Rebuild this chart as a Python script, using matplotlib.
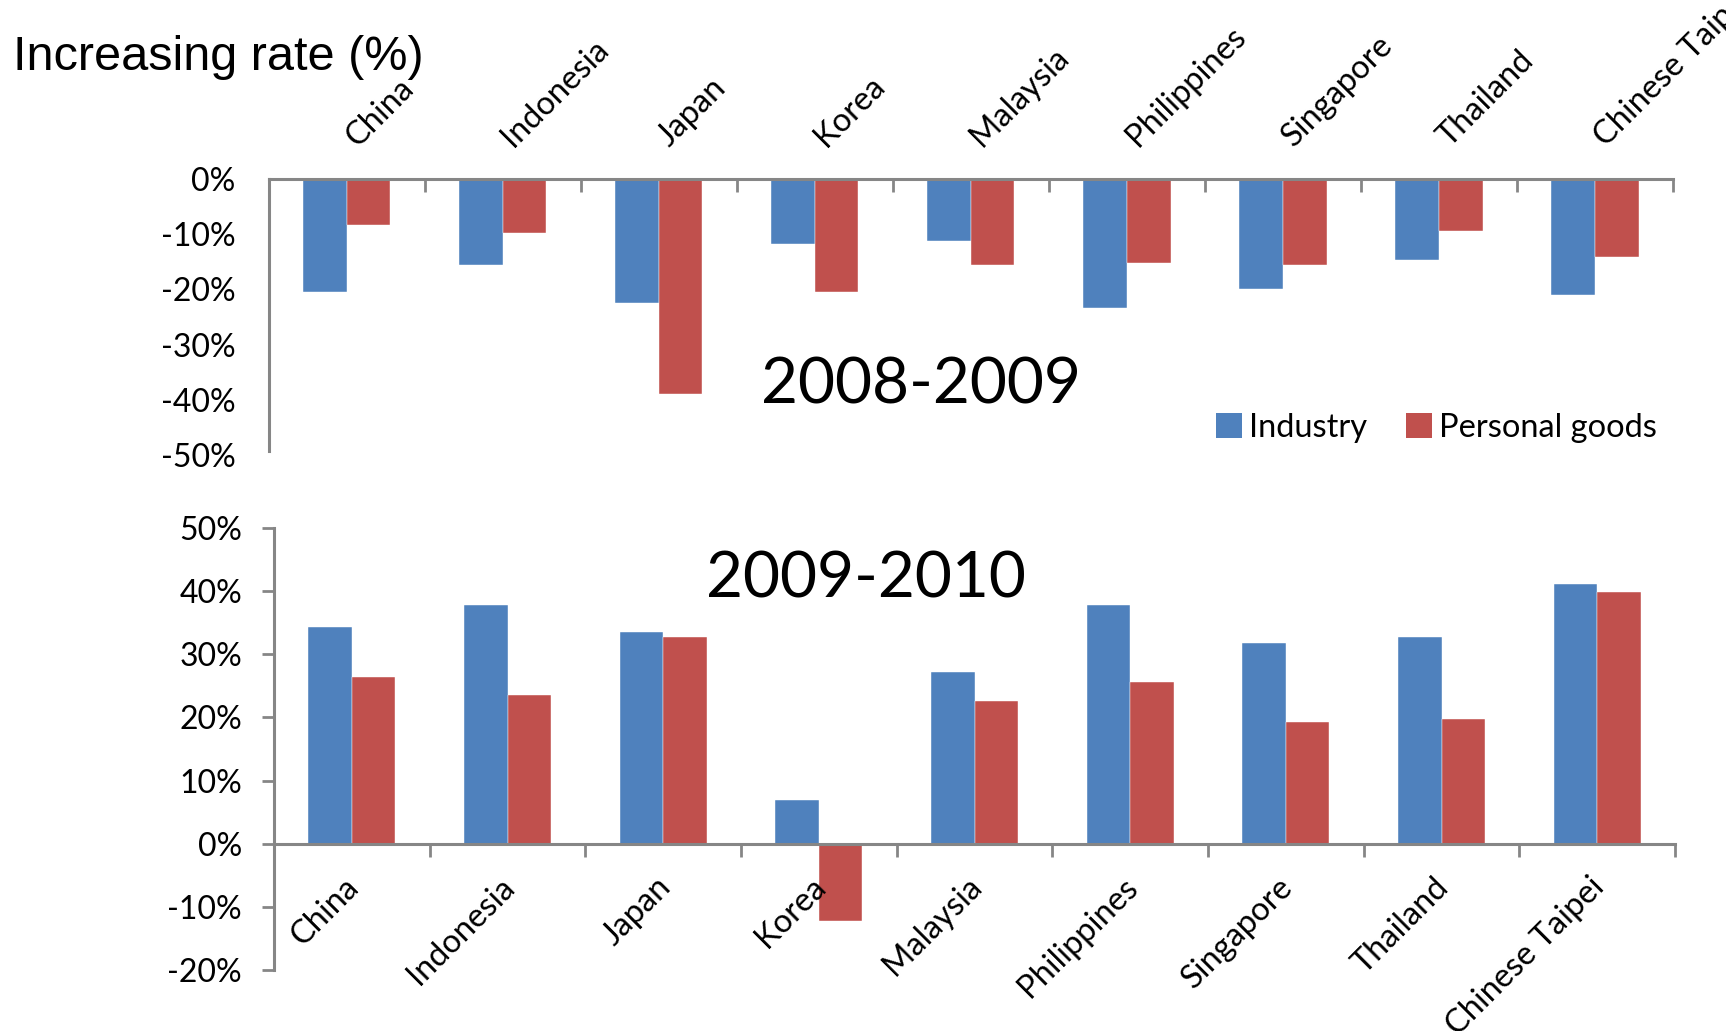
import numpy as np
import matplotlib
matplotlib.use("Agg")
import matplotlib.pyplot as plt
from matplotlib import transforms
from matplotlib.patches import Patch

countries = ["China", "Indonesia", "Japan", "Korea", "Malaysia",
             "Philippines", "Singapore", "Thailand", "Chinese Taipei"]

# growth 2008-2009 (%)
industry_0809 = [-20.4, -15.6, -22.4, -11.8, -11.2, -23.4, -19.9, -14.6, -21.0]
personal_0809 = [-8.3, -9.8, -38.9, -20.4, -15.6, -15.2, -15.6, -9.3, -14.1]

# growth 2009-2010 (%)
industry_0910 = [34.3, 37.8, 33.6, 7.0, 27.2, 37.8, 31.8, 32.7, 41.2]
personal_0910 = [26.4, 23.5, 32.8, -12.3, 22.6, 25.6, 19.3, 19.7, 39.9]

yticks_top = [0, -10, -20, -30, -40, -50]
yticks_bottom = [50, 40, 30, 20, 10, 0, -10, -20]
series_names = ["Industry", "Personal goods"]
period_labels = ["2008-2009", "2009-2010"]
axis_title = "Increasing rate (%)"

BLUE = "#4F81BD"
RED = "#C0504D"
GRAY = "#868686"
FONT = "Lato"
FS = 23.5

W, H = 1726, 1031
fig = plt.figure(figsize=(W / 100, H / 100), dpi=100)


def fig_rect(x0, y_top, x1, y_bot):
    return [x0 / W, 1 - y_bot / H, (x1 - x0) / W, (y_bot - y_top) / H]


x = np.arange(len(countries))
bw = 0.28

# ---- upper panel: 2008-2009 ----
ax1 = fig.add_axes(fig_rect(268.6, 179.4, 1673, 454.6))
ax1.bar(x - bw / 2, industry_0809, bw, color=BLUE, edgecolor="white", linewidth=0.3)
ax1.bar(x + bw / 2, personal_0809, bw, color=RED, edgecolor="white", linewidth=0.3)
ax1.set_xlim(-0.5, len(countries) - 0.5)
ax1.set_ylim(-50, 0)
ax1.set_yticks(yticks_top)
ax1.set_yticklabels([f"{v}%" for v in yticks_top], fontfamily=FONT, fontsize=23)
ax1.tick_params(axis="y", length=0, pad=24)
ax1.xaxis.tick_top()
ax1.set_xticks(np.arange(-0.5, len(countries), 1.0))
ax1.set_xticklabels([])
ax1.tick_params(axis="x", direction="in", length=9, width=2, color=GRAY)
for s in ["bottom", "right"]:
    ax1.spines[s].set_visible(False)
for s in ["top", "left"]:
    ax1.spines[s].set_color(GRAY)
    ax1.spines[s].set_linewidth(2.2)
ax1.spines["left"].set_bounds(-49.3, 0)

tr_top = transforms.blended_transform_factory(ax1.transData, ax1.transAxes)
off_top = transforms.offset_copy(tr_top, fig=fig, x=15, y=27, units="dots")
for i, name in enumerate(countries):
    ax1.text(i, 1.0, name, transform=off_top, rotation=45, rotation_mode="anchor",
             ha="left", va="bottom", fontfamily=FONT, fontsize=FS, clip_on=False)

# ---- lower panel: 2009-2010 ----
ax2 = fig.add_axes(fig_rect(274, 528, 1675, 970))
ax2.bar(x - bw / 2, industry_0910, bw, color=BLUE, edgecolor="white", linewidth=0.3)
ax2.bar(x + bw / 2, personal_0910, bw, color=RED, edgecolor="white", linewidth=0.3)
ax2.set_xlim(-0.5, len(countries) - 0.5)
ax2.set_ylim(-20, 50)
ax2.set_yticks(yticks_bottom)
ax2.set_yticklabels([f"{v}%" for v in yticks_bottom], fontfamily=FONT, fontsize=23)
ax2.tick_params(axis="y", direction="out", length=9, width=2, color=GRAY, pad=14)
ax2.set_xticks(np.arange(-0.5, len(countries), 1.0))
ax2.set_xticklabels([])
ax2.tick_params(axis="x", direction="out", length=9, width=2, color=GRAY)
ax2.spines["bottom"].set_position(("data", 0))
for s in ["top", "right"]:
    ax2.spines[s].set_visible(False)
for s in ["bottom", "left"]:
    ax2.spines[s].set_color(GRAY)
    ax2.spines[s].set_linewidth(2.2)

tr_bot = transforms.blended_transform_factory(ax2.transData, ax2.transData)
off_bot = transforms.offset_copy(tr_bot, fig=fig, x=-8, y=-28, units="dots")
for i, name in enumerate(countries):
    ax2.text(i, 0, name, transform=off_bot, rotation=45, rotation_mode="anchor",
             ha="right", va="top", fontfamily=FONT, fontsize=FS, clip_on=False,
             zorder=5)

# ---- annotations ----
fig.text(13 / W, 1 - 58 / H, axis_title, fontfamily="Liberation Sans", fontsize=35,
         ha="left", va="center")
fig.text(921 / W, 1 - 386 / H, period_labels[0], fontfamily=FONT, fontsize=46,
         ha="center", va="center")
fig.text(866 / W, 1 - 579 / H, period_labels[1], fontfamily=FONT, fontsize=46,
         ha="center", va="center")

handles = [Patch(facecolor=BLUE), Patch(facecolor=RED)]
fig.legend(handles, series_names, loc="center left",
           bbox_to_anchor=(1216 / W, 1 - 428 / H), ncol=2, frameon=False,
           prop={"family": FONT, "size": FS}, handlelength=0.8, handleheight=0.8,
           handletextpad=0.2, columnspacing=1.2, borderpad=0, borderaxespad=0)

fig.savefig("out.png", dpi=100)
